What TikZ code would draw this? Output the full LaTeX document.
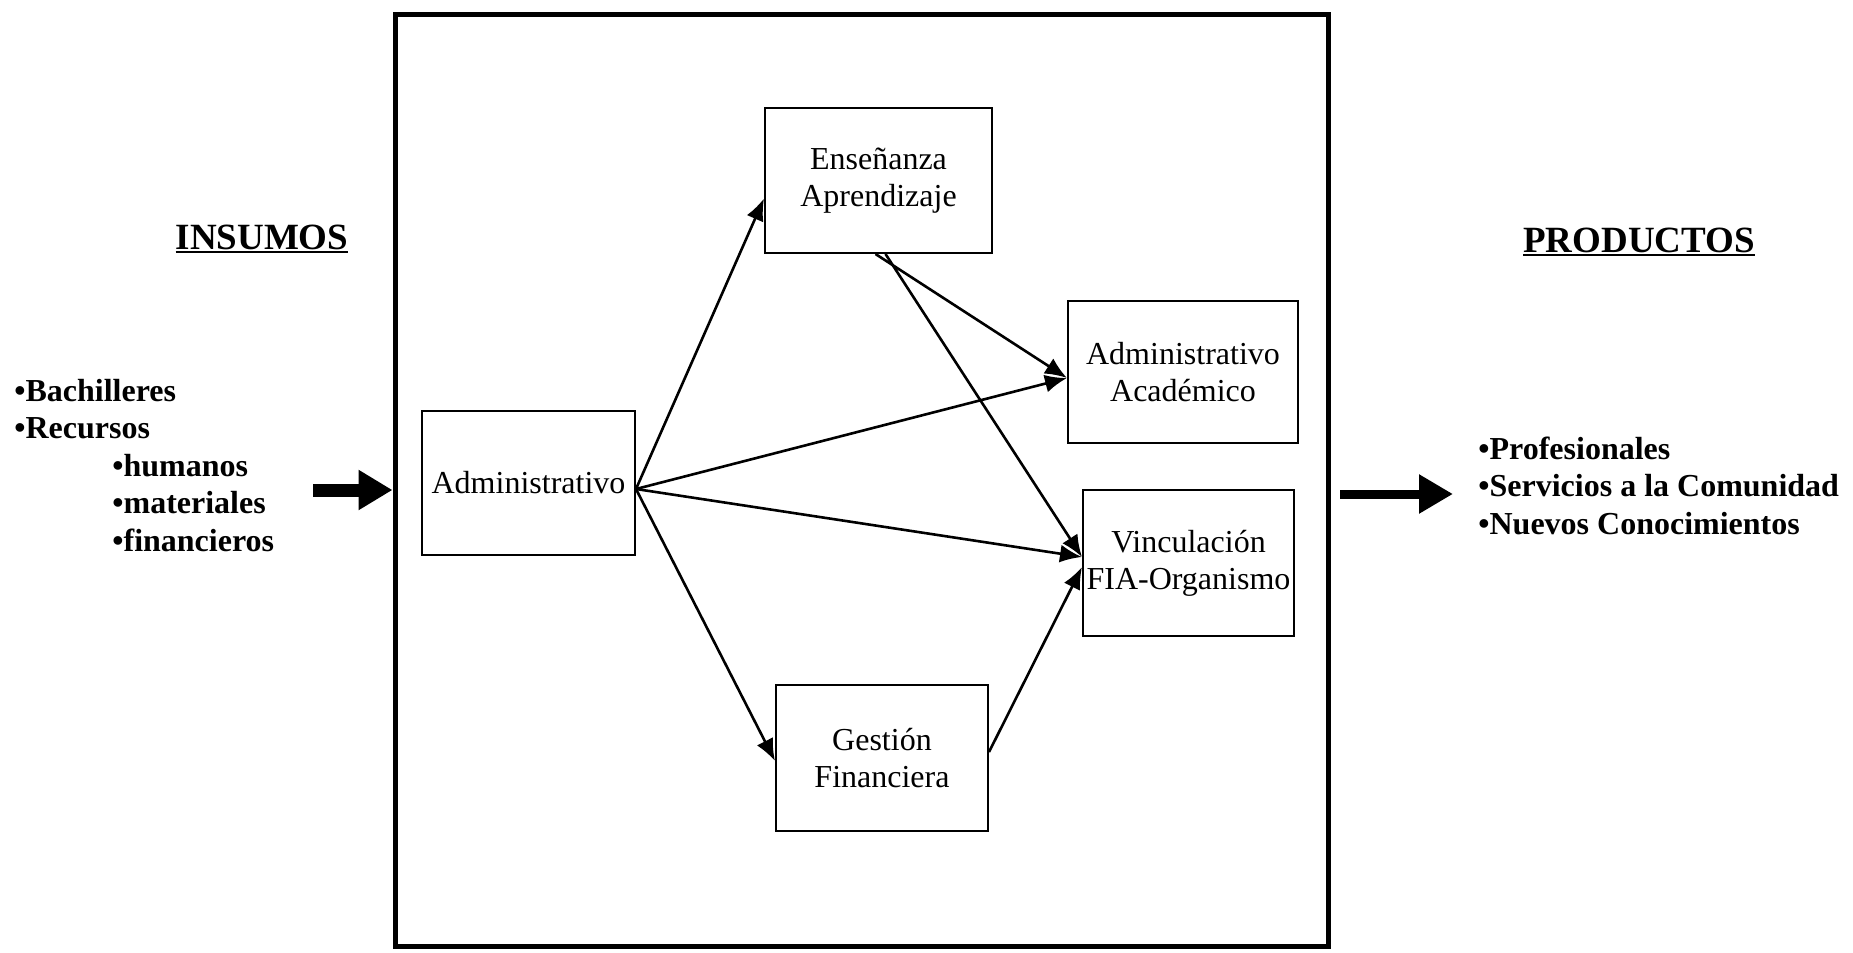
\documentclass[tikz,border=0pt]{standalone}
\usepackage{fontspec}
\setmainfont{Liberation Serif}
\usetikzlibrary{arrows.meta}

% bold heading with a heavy underline
\newcommand{\headrule}[1]{\setbox0=\hbox{#1}\leavevmode\rlap{\rule[-2.2pt]{\wd0}{1.3pt}}\box0}

\begin{document}
\begin{tikzpicture}[x=0.5pt,y=-0.5pt,
  box/.style={draw,line width=1pt,inner sep=0pt,align=center,
    font=\fontsize{16pt}{18.5pt}\selectfont},
  link/.style={line width=1.3pt,-{Latex[length=11pt,width=9pt]}},
  heading/.style={inner sep=0pt,anchor=base,font=\fontsize{18.5pt}{22pt}\selectfont\bfseries},
  listtext/.style={inner sep=0pt,anchor=base west,align=left,
    font=\fontsize{16pt}{18.75pt}\selectfont\bfseries}]

\useasboundingbox (0,0) rectangle (1853,953);

% the system boundary
\node[draw,line width=2.5pt,minimum width=466.5pt,minimum height=466pt,inner sep=0pt]
  (frame) at (861.5,480) {};

% inputs and outputs (lists are placed by the baseline of their last line)
\node[heading] (insumos) at (262,249) {\headrule{INSUMOS}};
\node[heading] (productos) at (1639,252) {\headrule{PRODUCTOS}};

\node[listtext] (inlist) at (14,551)
  {•Bachilleres\\•Recursos\\\hspace*{49pt}•humanos\\\hspace*{49pt}•materiales\\\hspace*{49pt}•financieros};
\node[listtext] (outlist) at (1478,534)
  {•Profesionales\\•Servicios a la Comunidad\\•Nuevos Conocimientos};

% subsystems
\node[box,minimum width=106.5pt,minimum height=72pt] (adm) at (528.5,483) {Administrativo};
\node[box,minimum width=113.5pt,minimum height=72.5pt] (ens) at (878.5,180.5) {Enseñanza\\Aprendizaje};
\node[box,minimum width=115pt,minimum height=71pt] (admac) at (1183,372) {Administrativo\\Académico};
\node[box,minimum width=105.5pt,minimum height=73pt] (vinc) at (1188.5,563) {Vinculación\\FIA-Organismo};
\node[box,minimum width=106pt,minimum height=73pt] (gest) at (882,758) {Gestión\\Financiera};

% flows between subsystems
\draw[link] ([yshift=-3pt]adm.east) -- ([yshift=-9pt]ens.west);
\draw[link] ([yshift=-3pt]adm.east) -- ([yshift=-3pt]admac.west);
\draw[link] ([yshift=-3pt]adm.east) -- ([yshift=3pt]vinc.west);
\draw[link] ([yshift=-3pt]adm.east) -- ([yshift=-1.5pt]gest.west);
\draw[link] ([xshift=-1.5pt]ens.south) -- ([yshift=-3pt]admac.west);
\draw[link] ([xshift=3.5pt]ens.south) -- ([yshift=3pt]vinc.west);
\draw[link] ([yshift=3pt]gest.east) -- ([yshift=-2pt]vinc.west);

% input and output arrows
\coordinate (inTail) at (313,490);
\draw[line width=6.5pt,-{Triangle[length=17pt,width=19pt]}] (inTail) -- (inTail -| frame.west);
\coordinate (outTail) at (1340,494);
\coordinate (outHead) at (1453,494);
\draw[line width=4.5pt,-{Triangle[length=17pt,width=18.5pt]}] (outTail) -- (outHead);

\end{tikzpicture}
\end{document}
